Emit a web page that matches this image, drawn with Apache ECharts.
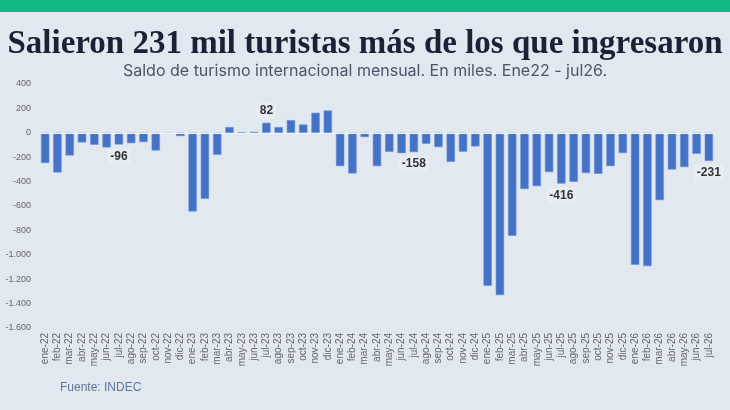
<!DOCTYPE html>
<html>
<head>
<meta charset="utf-8">
<script src="https://cdn.jsdelivr.net/npm/echarts@6/dist/echarts.min.js"></script>
<style>
  html, body { margin: 0; padding: 0; background: #e2e8f0; }
  #main { width: 730px; height: 410px; }
</style>
</head>
<body>
<div id="main"></div>
<script>
var meses = [
    'ene-22', 'feb-22', 'mar-22', 'abr-22', 'may-22', 'jun-22', 'jul-22', 'ago-22', 'sep-22', 'oct-22', 'nov-22', 'dic-22',
    'ene-23', 'feb-23', 'mar-23', 'abr-23', 'may-23', 'jun-23', 'jul-23', 'ago-23', 'sep-23', 'oct-23', 'nov-23', 'dic-23',
    'ene-24', 'feb-24', 'mar-24', 'abr-24', 'may-24', 'jun-24', 'jul-24', 'ago-24', 'sep-24', 'oct-24', 'nov-24', 'dic-24',
    'ene-25', 'feb-25', 'mar-25', 'abr-25', 'may-25', 'jun-25', 'jul-25', 'ago-25', 'sep-25', 'oct-25', 'nov-25', 'dic-25',
    'ene-26', 'feb-26', 'mar-26', 'abr-26', 'may-26', 'jun-26', 'jul-26'
];
// saldo mensual, en miles
var saldo = [
    -248, -325, -186, -79, -98, -120, -96, -85, -76, -145, -8, -27,
    -645, -541, -180, 47, 3, 8, 82, 47, 104, 68, 164, 183,
    -273, -333, -35, -273, -156, -167, -158, -90, -117, -238, -155, -112,
    -1254, -1330, -844, -461, -437, -322, -416, -402, -330, -336, -273, -166,
    -1082, -1093, -552, -301, -281, -172, -231
];
// meses con etiqueta (julio de cada año)
var etiquetados = ['jul-22', 'jul-23', 'jul-24', 'jul-25', 'jul-26'];

var chart = echarts.init(document.getElementById('main'));

var datos = saldo.map(function (v, i) {
    var item = { value: v };
    if (etiquetados.indexOf(meses[i]) >= 0) {
        item.label = {
            show: true,
            position: v < 0 ? 'bottom' : 'top',
            distance: 4,
            formatter: function (p) { return p.value; },
            fontFamily: 'Liberation Sans',
            fontWeight: 'bold',
            fontSize: 12,
            color: '#333',
            backgroundColor: '#e8edf5',
            padding: [2, 3]
        };
    }
    return item;
});

chart.setOption({
    backgroundColor: '#e2e8f0',
    graphic: [
        { type: 'rect', left: 0, top: 0, shape: { width: 730, height: 12 }, style: { fill: '#12b886' } },
        {
            type: 'text', left: 60, top: 382,
            style: { text: 'Fuente: INDEC', fill: '#5f7699', font: '12px "Liberation Sans"' }
        }
    ],
    title: [{
        text: 'Salieron 231 mil turistas más de los que ingresaron',
        left: 'center',
        top: 23,
        textStyle: {
            fontFamily: 'Liberation Serif',
            fontWeight: 'bold',
            fontSize: 33,
            color: '#1a2236'
        }
    }, {
        text: 'Saldo de turismo internacional mensual. En miles. Ene22 - jul26.',
        left: 'center',
        top: 58,
        textStyle: {
            fontFamily: 'Inter',
            fontWeight: 'normal',
            fontSize: 16,
            color: '#4a5568'
        }
    }],
    grid: { left: 39, right: 15, top: 84, bottom: 82 },
    xAxis: {
        type: 'category',
        data: meses,
        axisLine: { show: false },
        axisTick: { show: false },
        axisLabel: {
            interval: 0,
            rotate: 90,
            margin: 5,
            fontSize: 10,
            fontFamily: 'Liberation Sans',
            color: '#666'
        }
    },
    yAxis: {
        type: 'value',
        min: -1600,
        max: 400,
        interval: 200,
        splitLine: { show: false },
        axisLabel: {
            fontSize: 9,
            fontFamily: 'Liberation Sans',
            color: '#666',
            formatter: function (v) {
                return v.toLocaleString('es-AR');
            }
        }
    },
    series: [{
        type: 'bar',
        data: datos,
        barCategoryGap: '32%',
        itemStyle: { color: '#4472c4', borderColor: '#6a90d8', borderWidth: 0.6 },
        markLine: {
            silent: true,
            symbol: 'none',
            label: { show: false },
            lineStyle: { color: '#f4f6fa', type: 'solid', width: 1 },
            data: [{ yAxis: 0 }]
        }
    }]
});
</script>
</body>
</html>
